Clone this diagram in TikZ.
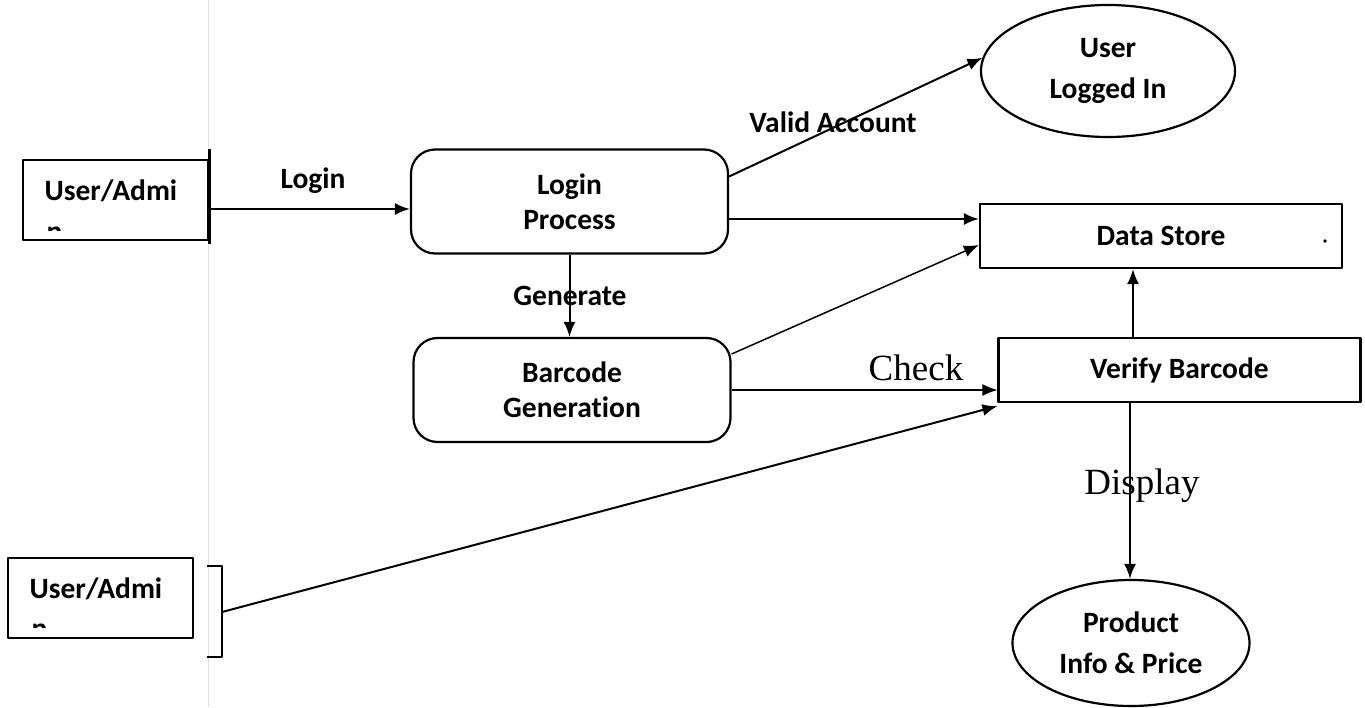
\documentclass[tikz,border=0pt]{standalone}
\usepackage{fontspec}
\setmainfont{Carlito}[Ligatures=CommonOff]
\newfontfamily\timesfont{Liberation Serif}
\usetikzlibrary{shapes.geometric,arrows.meta}

\begin{document}
\begin{tikzpicture}[x=1pt, y=-1pt, line join=round, >={Latex[length=15pt,width=12pt]},
	font=\fontsize{29.5}{35}\selectfont\bfseries,
	proc/.style={draw, line width=2.2pt, rounded corners=24pt, inner sep=0pt, minimum width=317pt, minimum height=104pt, align=center},
	store/.style={draw, line width=2.2pt, inner sep=0pt, minimum width=362pt, minimum height=64pt},
	entity/.style={draw, line width=2pt, inner sep=0pt, minimum width=185pt, minimum height=80pt},
	result/.style={draw, ellipse, line width=2.2pt, inner sep=0pt, align=center, font=\fontsize{29.5}{41}\selectfont\bfseries},
	flow/.style={->, line width=2pt},
	serif/.style={font=\fontsize{37}{37}\selectfont\timesfont}]
	\useasboundingbox (0,0) rectangle (1365,707);
	\draw[gray!25, line width=0.8pt] (208,0) -- (208,707);
	% external entities
	\node[entity] (user1) at (115.5,200) {};
	\node[anchor=west] (user1t) at (41,191) {User/Admi};
	\begin{scope}
		\clip (30,100) rectangle (80,230);
		\node[anchor=base west] (user1n) at (43,241) {n};
	\end{scope}
	\draw[line width=3pt] ([yshift=10pt]user1.north east) -- ([yshift=-3pt]user1.south east);
	\node[entity] (user2) at (100.5,598) {};
	\node[anchor=west] (user2t) at (26,589) {User/Admi};
	\begin{scope}
		\clip (15,500) rectangle (65,627);
		\node[anchor=base west] (user2n) at (28,638) {n};
	\end{scope}
	\draw[line width=2.2pt] (207,566) -- (222,566) -- (222,657) -- (207,657);
	\coordinate (br) at (222,612);
	% processes
	\node[proc] (login) at (569.5,201.5) {Login\\Process};
	\node[proc] (barcode) at (572,390) {Barcode\\Generation};
	\node[store] (store) at (1161,236) {Data Store};
	\fill (1325,241) circle (1.8pt);
	\node[store] (verify) at (1179.5,370) {Verify Barcode};
	\node[result, minimum width=254pt, minimum height=132pt] (loggedin) at (1108,71) {User\\Logged In};
	\node[result, minimum width=237pt, minimum height=126pt] (product) at (1131,643) {Product\\Info \& Price};
	% flows
	\draw[flow] ([yshift=-9pt]user1.east) coordinate (a) -- (a -| login.west);
	\node (llogin) at (313,181) {Login};
	\draw[flow] ([yshift=25pt]login.east) -- (loggedin.174);
	\node (lvalid) at (833,122) {Valid Account};
	\draw[flow] ([yshift=-17.5pt]login.east) coordinate (b) -- (b -| store.west);
	\draw[flow] (login.south) -- (login.south |- barcode.north);
	\node (lgen) at (570,296) {Generate};
	\draw[flow, line width=1.5pt] ([yshift=36pt]barcode.east) -- ([yshift=-9pt]store.west);
	\draw[flow, line width=1.2pt] (barcode.east) -- (barcode.east -| verify.west);
	\node[serif] (lcheck) at (916,368) {Check};
	\draw[flow] (br) -- ([yshift=-3pt]verify.south west);
	\draw[flow] ([xshift=-46.5pt]verify.north) coordinate (c) -- (c |- store.south);
	\draw[flow] ([xshift=-49.5pt]verify.south) coordinate (d) -- (d |- product.north);
	\node[serif] (ldisplay) at (1142,486) {Display};
\end{tikzpicture}
\end{document}
